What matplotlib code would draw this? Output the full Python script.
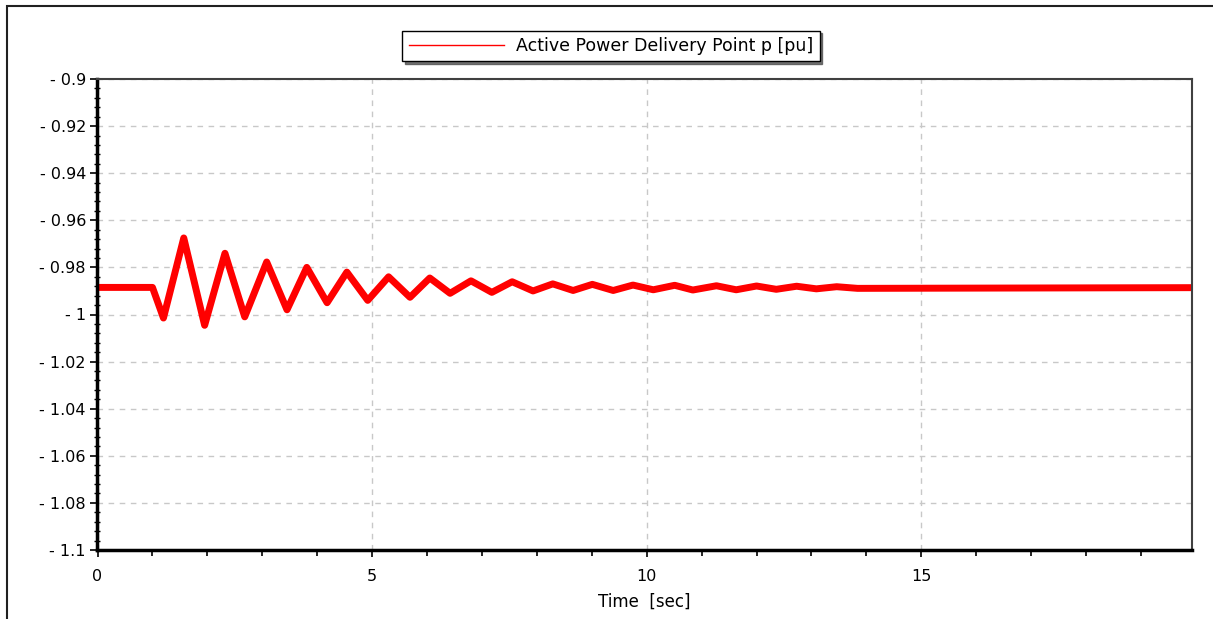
import matplotlib
matplotlib.use("Agg")
import matplotlib.pyplot as plt
from matplotlib.ticker import MultipleLocator, FuncFormatter
from matplotlib.patches import Rectangle

# extrema of the active power trace
time_sec = [0, 1.0, 1.2, 1.57, 1.95, 2.32, 2.68, 3.08, 3.45, 3.81, 4.18, 4.54,
            4.92, 5.30, 5.69, 6.05, 6.42, 6.80, 7.18, 7.55, 7.93, 8.29, 8.66,
            9.01, 9.39, 9.75, 10.12, 10.51, 10.84, 11.27, 11.63, 12.0, 12.36,
            12.73, 13.09, 13.46, 13.84, 19.93]
p_pu = [-0.9885, -0.9885, -1.0015, -0.9675, -1.0046, -0.974, -1.001, -0.9777,
        -0.998, -0.980, -0.995, -0.982, -0.994, -0.984, -0.9927, -0.9845,
        -0.991, -0.9857, -0.9906, -0.9861, -0.9900, -0.9870, -0.9898, -0.9872,
        -0.9898, -0.9875, -0.9895, -0.9876, -0.9896, -0.9878, -0.9895, -0.9879,
        -0.9893, -0.9880, -0.9891, -0.9882, -0.9889, -0.9886]

x_ticks = [0, 5, 10, 15]
legend_label = "Active Power Delivery Point p [pu]"

plt.rcParams['font.family'] = ['DejaVu Sans']

fig = plt.figure(figsize=(12.13, 6.19), dpi=100)
ax = fig.add_axes([97 / 1213, 1 - 550 / 619, (1192 - 97) / 1213, (550 - 79) / 619])

ax.plot(time_sec, p_pu, color='#ff0000', lw=5, solid_joinstyle='round')

ax.set_xlim(-0.01, 19.93)
ax.set_ylim(-1.1, -0.9)
ax.set_xticks(x_ticks)
ax.xaxis.set_minor_locator(MultipleLocator(1))
ax.yaxis.set_major_locator(MultipleLocator(0.02))
ax.yaxis.set_minor_locator(MultipleLocator(0.004))
ax.yaxis.set_major_formatter(FuncFormatter(lambda v, pos: "- %g" % round(abs(v), 3)))

ax.grid(True, which='major', color='#c8c8c8', linestyle=(0, (4, 4)), lw=1)
ax.set_axisbelow(True)

for s in ['left', 'bottom']:
    ax.spines[s].set_linewidth(2.5)
    ax.spines[s].set_color('black')
for s in ['top', 'right']:
    ax.spines[s].set_linewidth(1.5)
    ax.spines[s].set_color('#404040')

ax.tick_params(which='major', direction='out', length=5, width=1.2, labelsize=11.5, colors='black')
ax.tick_params(axis='y', which='minor', direction='inout', length=5, width=1)
ax.tick_params(axis='x', which='minor', direction='out', length=4, width=1.2)
ax.tick_params(axis='x', pad=9)
ax.tick_params(axis='y', pad=3)

ax.set_xlabel("Time  [sec]", fontsize=12, labelpad=6)

leg = fig.legend([plt.Line2D([], [], color='#ff0000', lw=1)], [legend_label],
                 loc='upper center', bbox_to_anchor=(611 / 1213, 1 - 22 / 619),
                 frameon=True, fancybox=False, shadow={'color': '#505050', 'alpha': 0.8},
                 fontsize=12.5, handlelength=5.5, borderpad=0.35, handletextpad=0.7)
leg.get_frame().set_edgecolor('black')
leg.get_frame().set_linewidth(1)

# outer frame of the plot window
fig.patches.append(Rectangle((7 / 1213, -0.05), 1.2, 1.05 - 6 / 619, transform=fig.transFigure,
                             fill=False, edgecolor='#202020', lw=1.5))

fig.savefig("out.png", dpi=100)
